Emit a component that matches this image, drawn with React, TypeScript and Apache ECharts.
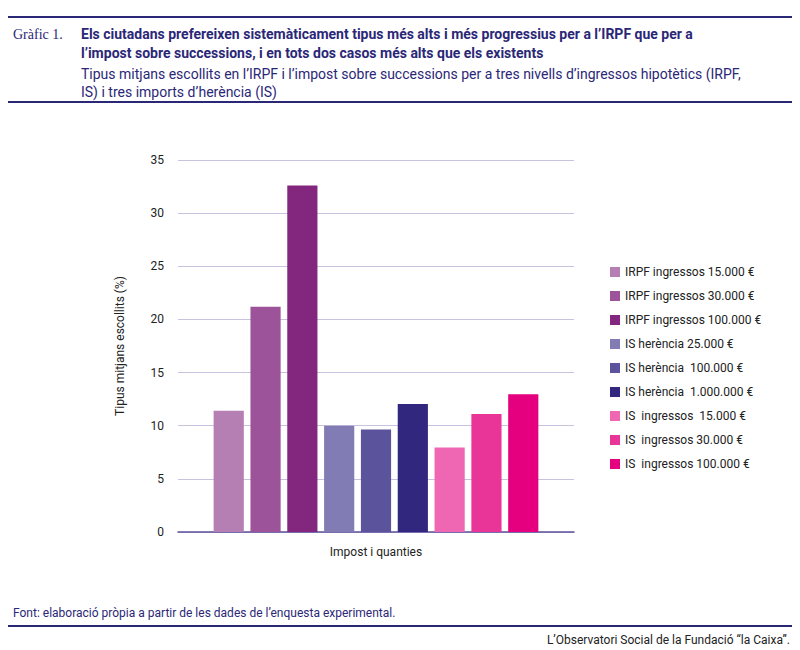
import * as echarts from "echarts";
import { useEffect, useRef } from "react";

const categories = ["Impost i quanties"];
const seriesNames = [
  "IRPF ingressos 15.000 €",
  "IRPF ingressos 30.000 €",
  "IRPF ingressos 100.000 €",
  "IS herència 25.000 €",
  "IS herència  100.000 €",
  "IS herència  1.000.000 €",
  "IS  ingressos  15.000 €",
  "IS  ingressos 30.000 €",
  "IS  ingressos 100.000 €",
];
const values = [11.4, 21.2, 32.6, 10.0, 9.65, 12.05, 7.95, 11.1, 12.95];
const colors = [
  "#b57fb4", "#9c5399", "#82267e",
  "#817db4", "#5b539c", "#32277f",
  "#ef66b3", "#ea3598", "#e4007f",
];

const FONT = "Roboto, 'Liberation Sans', sans-serif";
const NAVY = "#2b2777";

export default function App() {
  const chartRef = useRef<HTMLDivElement>(null);
  useEffect(() => {
    const chart = echarts.init(chartRef.current, null, { renderer: "svg" });
    chart.setOption({
      animation: false,
      textStyle: { fontFamily: FONT },
      legend: {
        orient: "vertical",
        left: 597,
        top: 253,
        itemWidth: 10,
        itemHeight: 10,
        itemGap: 12,
        icon: "rect",
        textStyle: { fontSize: 12, color: "#222" },
        data: seriesNames,
      },
      grid: { left: 170, right: 218, top: 152, bottom: 118 },
      xAxis: {
        type: "category",
        data: categories,
        name: "Impost i quanties",
        nameLocation: "middle",
        nameGap: 14,
        nameTextStyle: { fontSize: 12, color: "#222" },
        axisLabel: { show: false },
        axisTick: { show: false },
        axisLine: { lineStyle: { color: "#5b539c", width: 1.5 } },
      },
      yAxis: {
        type: "value",
        min: 0,
        max: 35,
        interval: 5,
        name: "Tipus mitjans escollits (%)",
        nameLocation: "middle",
        nameGap: 52,
        nameRotate: 90,
        nameTextStyle: { fontSize: 12, color: "#222" },
        axisLabel: { fontSize: 12, color: "#222", margin: 14 },
        splitLine: { lineStyle: { color: "#c9c2de" } },
        axisLine: { show: false },
        axisTick: { show: false },
      },
      series: seriesNames.map((n, i) => ({
        name: n,
        type: "bar",
        data: [values[i]],
        barGap: "22%",
        barCategoryGap: "18%",
        itemStyle: { color: colors[i] },
      })),
      graphic: [
        { type: "rect", shape: { x: 0, y: 8, width: 784, height: 2 }, style: { fill: NAVY } },
        { type: "text", x: 5, y: 19, style: { text: "Gràfic 1.", font: "14px 'Liberation Serif', serif", fill: NAVY } },
        { type: "text", x: 73, y: 16, style: { text: "Els ciutadans prefereixen sistemàticament tipus més alts i més progressius per a l’IRPF que per a\nl’impost sobre successions, i en tots dos casos més alts que els existents", font: `bold 14px ${FONT}`, fill: NAVY, lineHeight: 19 } },
        { type: "text", x: 73, y: 57, style: { text: "Tipus mitjans escollits en l’IRPF i l’impost sobre successions per a tres nivells d’ingressos hipotètics (IRPF,\nIS) i tres imports d’herència (IS)", font: `14px ${FONT}`, fill: NAVY, lineHeight: 18 } },
        { type: "rect", shape: { x: 0, y: 93, width: 784, height: 2 }, style: { fill: NAVY } },
        { type: "text", x: 5, y: 599, style: { text: "Font: elaboració pròpia a partir de les dades de l’enquesta experimental.", font: `12px ${FONT}`, fill: NAVY } },
        { type: "rect", shape: { x: 0, y: 617, width: 784, height: 2 }, style: { fill: NAVY } },
        { type: "text", x: 782, y: 626, style: { text: "L’Observatori Social de la Fundació “la Caixa”.", font: `12px ${FONT}`, fill: "#222", align: "right" } },
      ],
    });
    return () => chart.dispose();
  }, []);
  return <div ref={chartRef} style={{ width: 784, height: 642 }} />;
}
